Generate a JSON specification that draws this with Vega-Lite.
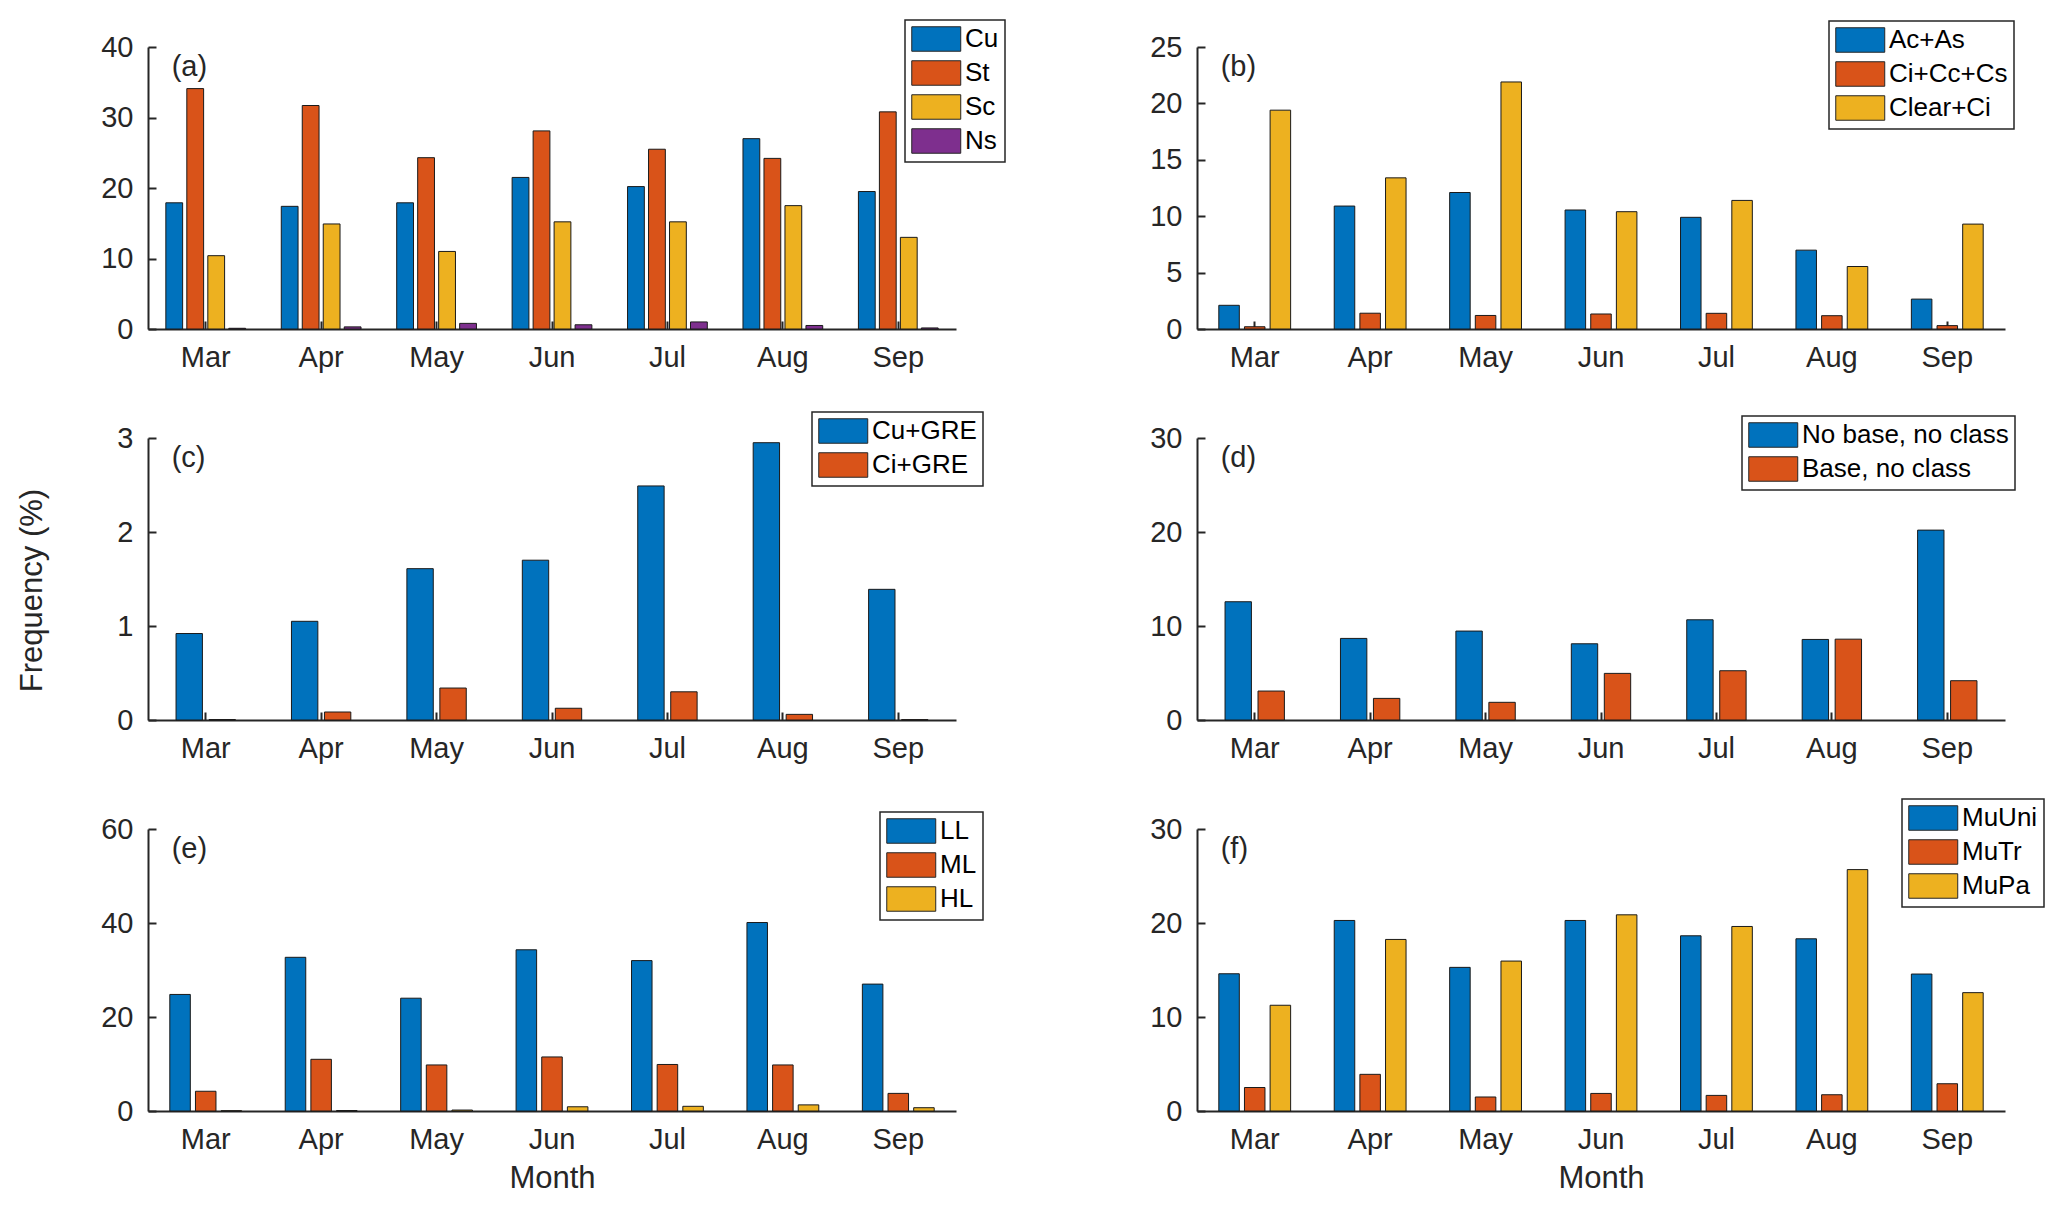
{
  "$schema": "https://vega.github.io/schema/vega-lite/v6.json",
  "background": "white",
  "padding": {"left": 16, "top": 19, "right": 5, "bottom": 5},
  "columns": 2,
  "spacing": {"row": 109, "column": 241},
  "bounds": "flush",
  "resolve": {"scale": {"color": "independent", "x": "independent", "y": "independent", "xOffset": "independent"}, "legend": {"color": "independent"}},
  "config": {
    "view": {"stroke": null},
    "axis": {"grid": false, "domainColor": "#262626", "tickColor": "#262626", "labelColor": "#262626", "labelFont": "Liberation Sans", "labelFontSize": 29, "titleFont": "Liberation Sans", "titleFontSize": 31, "titleFontWeight": "normal", "titleColor": "#262626", "tickWidth": 2, "domainWidth": 2},
    "axisX": {"labelAngle": 0, "tickSize": -8, "labelPadding": 22},
    "axisY": {"tickSize": -8, "labelPadding": 23, "format": "d"},
    "legend": {"strokeColor": "#262626", "strokeWidth": 1.5, "fillColor": "white", "padding": 6, "labelFont": "Liberation Sans", "labelFontSize": 26, "labelColor": "black", "labelLimit": 0, "symbolStrokeColor": "#262626", "symbolStrokeWidth": 1, "symbolOpacity": 1, "labelOffset": 28, "rowPadding": 4}
  },
  "concat": [
    {
      "width": 808, "height": 282,
      "layer": [
        {
          "data": {"values": [
            {"m":"Mar","s":"Cu","v":17.9},{"m":"Mar","s":"St","v":34.1},{"m":"Mar","s":"Sc","v":10.4},{"m":"Mar","s":"Ns","v":0.1},
            {"m":"Apr","s":"Cu","v":17.4},{"m":"Apr","s":"St","v":31.7},{"m":"Apr","s":"Sc","v":14.9},{"m":"Apr","s":"Ns","v":0.3},
            {"m":"May","s":"Cu","v":17.9},{"m":"May","s":"St","v":24.3},{"m":"May","s":"Sc","v":11.0},{"m":"May","s":"Ns","v":0.8},
            {"m":"Jun","s":"Cu","v":21.5},{"m":"Jun","s":"St","v":28.1},{"m":"Jun","s":"Sc","v":15.2},{"m":"Jun","s":"Ns","v":0.6},
            {"m":"Jul","s":"Cu","v":20.2},{"m":"Jul","s":"St","v":25.5},{"m":"Jul","s":"Sc","v":15.2},{"m":"Jul","s":"Ns","v":1.0},
            {"m":"Aug","s":"Cu","v":27.0},{"m":"Aug","s":"St","v":24.2},{"m":"Aug","s":"Sc","v":17.5},{"m":"Aug","s":"Ns","v":0.5},
            {"m":"Sep","s":"Cu","v":19.5},{"m":"Sep","s":"St","v":30.8},{"m":"Sep","s":"Sc","v":13.0},{"m":"Sep","s":"Ns","v":0.15}
          ]},
          "mark": {"type": "bar", "stroke": "#1a1a1a", "strokeWidth": 1},
          "encoding": {
            "x": {"field": "m", "type": "nominal", "scale": {"domain": ["Mar","Apr","May","Jun","Jul","Aug","Sep"], "paddingInner": 0, "paddingOuter": 0}, "axis": {"title": null}},
            "xOffset": {"field": "s", "type": "nominal", "scale": {"domain": ["Cu","St","Sc","Ns"], "paddingInner": 0.2, "paddingOuter": 0.85}},
            "y": {"field": "v", "type": "quantitative", "scale": {"domain": [0, 40], "nice": false}, "axis": {"values": [0,10,20,30,40], "title": null}},
            "color": {"field": "s", "type": "nominal", "scale": {"domain": ["Cu","St","Sc","Ns"], "range": ["#0072BD","#D95319","#EDB120","#7E2F8E"]}, "legend": {"title": null, "orient": "none", "legendX": 757, "legendY": -27, "symbolType": "M-1,-1H3V1H-1Z", "symbolSize": 600}}
          }
        },
        {
          "data": {"values": [{"label": "(a)"}]},
          "mark": {"type": "text", "align": "left", "baseline": "top", "dx": -34, "dy": 6, "font": "Liberation Sans", "fontSize": 29, "color": "#262626"},
          "encoding": {"x": {"datum": "Mar"}, "y": {"datum": 40}, "text": {"field": "label"}}
        }
      ]
    },
    {
      "width": 808, "height": 282,
      "layer": [
        {
          "data": {"values": [
            {"m":"Mar","s":"Ac+As","v":2.1},{"m":"Mar","s":"Ci+Cc+Cs","v":0.2},{"m":"Mar","s":"Clear+Ci","v":19.4},
            {"m":"Apr","s":"Ac+As","v":10.9},{"m":"Apr","s":"Ci+Cc+Cs","v":1.4},{"m":"Apr","s":"Clear+Ci","v":13.4},
            {"m":"May","s":"Ac+As","v":12.1},{"m":"May","s":"Ci+Cc+Cs","v":1.2},{"m":"May","s":"Clear+Ci","v":21.9},
            {"m":"Jun","s":"Ac+As","v":10.55},{"m":"Jun","s":"Ci+Cc+Cs","v":1.33},{"m":"Jun","s":"Clear+Ci","v":10.4},
            {"m":"Jul","s":"Ac+As","v":9.9},{"m":"Jul","s":"Ci+Cc+Cs","v":1.39},{"m":"Jul","s":"Clear+Ci","v":11.4},
            {"m":"Aug","s":"Ac+As","v":6.99},{"m":"Aug","s":"Ci+Cc+Cs","v":1.18},{"m":"Aug","s":"Clear+Ci","v":5.54},
            {"m":"Sep","s":"Ac+As","v":2.65},{"m":"Sep","s":"Ci+Cc+Cs","v":0.3},{"m":"Sep","s":"Clear+Ci","v":9.3}
          ]},
          "mark": {"type": "bar", "stroke": "#1a1a1a", "strokeWidth": 1},
          "encoding": {
            "x": {"field": "m", "type": "nominal", "scale": {"domain": ["Mar","Apr","May","Jun","Jul","Aug","Sep"], "paddingInner": 0, "paddingOuter": 0}, "axis": {"title": null}},
            "xOffset": {"field": "s", "type": "nominal", "scale": {"domain": ["Ac+As","Ci+Cc+Cs","Clear+Ci"], "paddingInner": 0.2, "paddingOuter": 0.85}},
            "y": {"field": "v", "type": "quantitative", "scale": {"domain": [0, 25], "nice": false}, "axis": {"values": [0,5,10,15,20,25], "title": null}},
            "color": {"field": "s", "type": "nominal", "scale": {"domain": ["Ac+As","Ci+Cc+Cs","Clear+Ci"], "range": ["#0072BD","#D95319","#EDB120"]}, "legend": {"title": null, "orient": "none", "legendX": 632, "legendY": -26, "symbolType": "M-1,-1H3V1H-1Z", "symbolSize": 600}}
          }
        },
        {
          "data": {"values": [{"label": "(b)"}]},
          "mark": {"type": "text", "align": "left", "baseline": "top", "dx": -34, "dy": 6, "font": "Liberation Sans", "fontSize": 29, "color": "#262626"},
          "encoding": {"x": {"datum": "Mar"}, "y": {"datum": 25}, "text": {"field": "label"}}
        }
      ]
    },
    {
      "width": 808, "height": 282,
      "layer": [
        {
          "data": {"values": [
            {"m":"Mar","s":"Cu+GRE","v":0.92},{"m":"Mar","s":"Ci+GRE","v":0.005},
            {"m":"Apr","s":"Cu+GRE","v":1.05},{"m":"Apr","s":"Ci+GRE","v":0.085},
            {"m":"May","s":"Cu+GRE","v":1.61},{"m":"May","s":"Ci+GRE","v":0.34},
            {"m":"Jun","s":"Cu+GRE","v":1.70},{"m":"Jun","s":"Ci+GRE","v":0.125},
            {"m":"Jul","s":"Cu+GRE","v":2.49},{"m":"Jul","s":"Ci+GRE","v":0.30},
            {"m":"Aug","s":"Cu+GRE","v":2.95},{"m":"Aug","s":"Ci+GRE","v":0.06},
            {"m":"Sep","s":"Cu+GRE","v":1.39},{"m":"Sep","s":"Ci+GRE","v":0.004}
          ]},
          "mark": {"type": "bar", "stroke": "#1a1a1a", "strokeWidth": 1},
          "encoding": {
            "x": {"field": "m", "type": "nominal", "scale": {"domain": ["Mar","Apr","May","Jun","Jul","Aug","Sep"], "paddingInner": 0, "paddingOuter": 0}, "axis": {"title": null}},
            "xOffset": {"field": "s", "type": "nominal", "scale": {"domain": ["Cu+GRE","Ci+GRE"], "paddingInner": 0.2, "paddingOuter": 0.85}},
            "y": {"field": "v", "type": "quantitative", "scale": {"domain": [0, 3], "nice": false}, "axis": {"values": [0,1,2,3], "format": "d", "title": "Frequency (%)", "titleX": -100, "titleY": 152, "titleAngle": 270, "titleBaseline": "bottom", "titleAlign": "center"}},
            "color": {"field": "s", "type": "nominal", "scale": {"domain": ["Cu+GRE","Ci+GRE"], "range": ["#0072BD","#D95319"]}, "legend": {"title": null, "orient": "none", "legendX": 664, "legendY": -26, "symbolType": "M-1,-1H3V1H-1Z", "symbolSize": 600}}
          }
        },
        {
          "data": {"values": [{"label": "(c)"}]},
          "mark": {"type": "text", "align": "left", "baseline": "top", "dx": -34, "dy": 6, "font": "Liberation Sans", "fontSize": 29, "color": "#262626"},
          "encoding": {"x": {"datum": "Mar"}, "y": {"datum": 3}, "text": {"field": "label"}}
        }
      ]
    },
    {
      "width": 808, "height": 282,
      "layer": [
        {
          "data": {"values": [
            {"m":"Mar","s":"No base, no class","v":12.58},{"m":"Mar","s":"Base, no class","v":3.08},
            {"m":"Apr","s":"No base, no class","v":8.68},{"m":"Apr","s":"Base, no class","v":2.3},
            {"m":"May","s":"No base, no class","v":9.46},{"m":"May","s":"Base, no class","v":1.88},
            {"m":"Jun","s":"No base, no class","v":8.11},{"m":"Jun","s":"Base, no class","v":4.96},
            {"m":"Jul","s":"No base, no class","v":10.66},{"m":"Jul","s":"Base, no class","v":5.24},
            {"m":"Aug","s":"No base, no class","v":8.57},{"m":"Aug","s":"Base, no class","v":8.6},
            {"m":"Sep","s":"No base, no class","v":20.2},{"m":"Sep","s":"Base, no class","v":4.18}
          ]},
          "mark": {"type": "bar", "stroke": "#1a1a1a", "strokeWidth": 1},
          "encoding": {
            "x": {"field": "m", "type": "nominal", "scale": {"domain": ["Mar","Apr","May","Jun","Jul","Aug","Sep"], "paddingInner": 0, "paddingOuter": 0}, "axis": {"title": null}},
            "xOffset": {"field": "s", "type": "nominal", "scale": {"domain": ["No base, no class","Base, no class"], "paddingInner": 0.2, "paddingOuter": 0.85}},
            "y": {"field": "v", "type": "quantitative", "scale": {"domain": [0, 30], "nice": false}, "axis": {"values": [0,10,20,30], "title": null}},
            "color": {"field": "s", "type": "nominal", "scale": {"domain": ["No base, no class","Base, no class"], "range": ["#0072BD","#D95319"]}, "legend": {"title": null, "orient": "none", "legendX": 545, "legendY": -22, "symbolType": "M-1,-1H3V1H-1Z", "symbolSize": 600}}
          }
        },
        {
          "data": {"values": [{"label": "(d)"}]},
          "mark": {"type": "text", "align": "left", "baseline": "top", "dx": -34, "dy": 6, "font": "Liberation Sans", "fontSize": 29, "color": "#262626"},
          "encoding": {"x": {"datum": "Mar"}, "y": {"datum": 30}, "text": {"field": "label"}}
        }
      ]
    },
    {
      "width": 808, "height": 282,
      "layer": [
        {
          "data": {"values": [
            {"m":"Mar","s":"LL","v":24.8},{"m":"Mar","s":"ML","v":4.2},{"m":"Mar","s":"HL","v":0.05},
            {"m":"Apr","s":"LL","v":32.7},{"m":"Apr","s":"ML","v":11.0},{"m":"Apr","s":"HL","v":0.1},
            {"m":"May","s":"LL","v":24.0},{"m":"May","s":"ML","v":9.8},{"m":"May","s":"HL","v":0.2},
            {"m":"Jun","s":"LL","v":34.3},{"m":"Jun","s":"ML","v":11.5},{"m":"Jun","s":"HL","v":0.9},
            {"m":"Jul","s":"LL","v":32.0},{"m":"Jul","s":"ML","v":9.9},{"m":"Jul","s":"HL","v":1.0},
            {"m":"Aug","s":"LL","v":40.1},{"m":"Aug","s":"ML","v":9.8},{"m":"Aug","s":"HL","v":1.3},
            {"m":"Sep","s":"LL","v":27.0},{"m":"Sep","s":"ML","v":3.75},{"m":"Sep","s":"HL","v":0.7}
          ]},
          "mark": {"type": "bar", "stroke": "#1a1a1a", "strokeWidth": 1},
          "encoding": {
            "x": {"field": "m", "type": "nominal", "scale": {"domain": ["Mar","Apr","May","Jun","Jul","Aug","Sep"], "paddingInner": 0, "paddingOuter": 0}, "axis": {"title": "Month", "titleY": 52, "titleBaseline": "top"}},
            "xOffset": {"field": "s", "type": "nominal", "scale": {"domain": ["LL","ML","HL"], "paddingInner": 0.2, "paddingOuter": 0.85}},
            "y": {"field": "v", "type": "quantitative", "scale": {"domain": [0, 60], "nice": false}, "axis": {"values": [0,20,40,60], "title": null}},
            "color": {"field": "s", "type": "nominal", "scale": {"domain": ["LL","ML","HL"], "range": ["#0072BD","#D95319","#EDB120"]}, "legend": {"title": null, "orient": "none", "legendX": 732, "legendY": -17, "symbolType": "M-1,-1H3V1H-1Z", "symbolSize": 600}}
          }
        },
        {
          "data": {"values": [{"label": "(e)"}]},
          "mark": {"type": "text", "align": "left", "baseline": "top", "dx": -34, "dy": 6, "font": "Liberation Sans", "fontSize": 29, "color": "#262626"},
          "encoding": {"x": {"datum": "Mar"}, "y": {"datum": 60}, "text": {"field": "label"}}
        }
      ]
    },
    {
      "width": 808, "height": 282,
      "layer": [
        {
          "data": {"values": [
            {"m":"Mar","s":"MuUni","v":14.6},{"m":"Mar","s":"MuTr","v":2.5},{"m":"Mar","s":"MuPa","v":11.25},
            {"m":"Apr","s":"MuUni","v":20.27},{"m":"Apr","s":"MuTr","v":3.9},{"m":"Apr","s":"MuPa","v":18.25},
            {"m":"May","s":"MuUni","v":15.28},{"m":"May","s":"MuTr","v":1.49},{"m":"May","s":"MuPa","v":15.95},
            {"m":"Jun","s":"MuUni","v":20.27},{"m":"Jun","s":"MuTr","v":1.87},{"m":"Jun","s":"MuPa","v":20.87},
            {"m":"Jul","s":"MuUni","v":18.64},{"m":"Jul","s":"MuTr","v":1.66},{"m":"Jul","s":"MuPa","v":19.63},
            {"m":"Aug","s":"MuUni","v":18.32},{"m":"Aug","s":"MuTr","v":1.73},{"m":"Aug","s":"MuPa","v":25.68},
            {"m":"Sep","s":"MuUni","v":14.57},{"m":"Sep","s":"MuTr","v":2.9},{"m":"Sep","s":"MuPa","v":12.59}
          ]},
          "mark": {"type": "bar", "stroke": "#1a1a1a", "strokeWidth": 1},
          "encoding": {
            "x": {"field": "m", "type": "nominal", "scale": {"domain": ["Mar","Apr","May","Jun","Jul","Aug","Sep"], "paddingInner": 0, "paddingOuter": 0}, "axis": {"title": "Month", "titleY": 52, "titleBaseline": "top"}},
            "xOffset": {"field": "s", "type": "nominal", "scale": {"domain": ["MuUni","MuTr","MuPa"], "paddingInner": 0.2, "paddingOuter": 0.85}},
            "y": {"field": "v", "type": "quantitative", "scale": {"domain": [0, 30], "nice": false}, "axis": {"values": [0,10,20,30], "title": null}},
            "color": {"field": "s", "type": "nominal", "scale": {"domain": ["MuUni","MuTr","MuPa"], "range": ["#0072BD","#D95319","#EDB120"]}, "legend": {"title": null, "orient": "none", "legendX": 705, "legendY": -30, "symbolType": "M-1,-1H3V1H-1Z", "symbolSize": 600}}
          }
        },
        {
          "data": {"values": [{"label": "(f)"}]},
          "mark": {"type": "text", "align": "left", "baseline": "top", "dx": -34, "dy": 6, "font": "Liberation Sans", "fontSize": 29, "color": "#262626"},
          "encoding": {"x": {"datum": "Mar"}, "y": {"datum": 30}, "text": {"field": "label"}}
        }
      ]
    }
  ]
}
